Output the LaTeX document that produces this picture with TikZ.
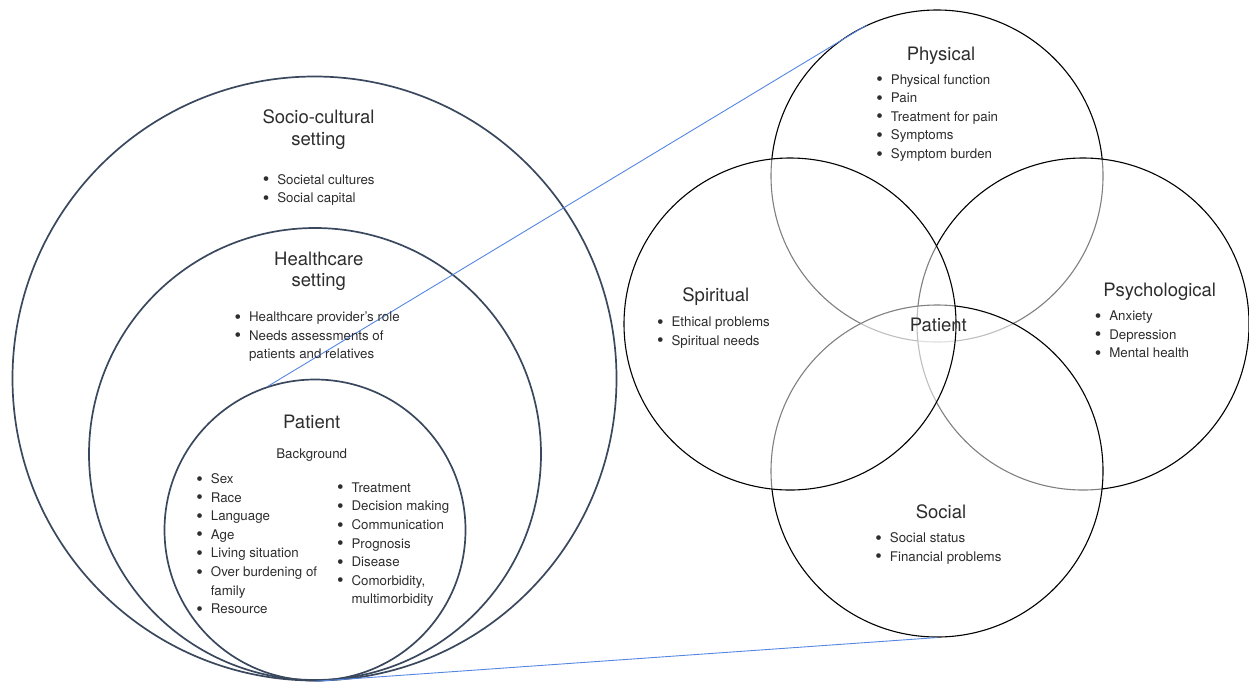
\documentclass[tikz,border=0pt]{standalone}
\usepackage{fontspec}
\setmainfont{TeX Gyre Heros}
\definecolor{ringcol}{RGB}{58,72,94}
\definecolor{txt}{RGB}{45,45,45}
\definecolor{zoomblue}{RGB}{84,134,226}
% a slightly enlarged bullet, kept centred on the x-height
\newcommand\dotb{\raisebox{-0.12em}{\scalebox{1.4}{\textbullet}}}
% bullet list: bullet column and text column, aligned on the first baseline
\newcommand\bulletlist[1]{\begin{tabular}[t]{@{}l@{\hspace{8pt}}l@{}}#1\end{tabular}}
\newcommand\titlelines[1]{\begin{tabular}[t]{@{}c@{}}#1\end{tabular}}
\begin{document}
\begin{tikzpicture}[x=1pt,y=-1pt,
  ring/.style={circle,draw=ringcol,line width=1.7pt,inner sep=0pt,minimum size=#1},
  petal/.style={circle,draw=black,line width=1.1pt,fill=white,fill opacity=0.5,inner sep=0pt,minimum size=332pt},
  ttl/.style={text=txt,anchor=base,inner sep=0pt,font=\fontsize{18.5}{21.8}\selectfont},
  sub/.style={text=txt,anchor=base,inner sep=0pt,font=\fontsize{13.3}{18.6}\selectfont},
  lst/.style={text=txt,anchor=base west,inner sep=0pt,font=\fontsize{13.3}{18.6}\selectfont},
  zoomline/.style={draw=zoomblue,line width=0.9pt}]
\useasboundingbox (0,0) rectangle (1249,681);

% nested settings around the patient
\node[ring=604pt] (outer) at (314.5,378.5) {};
\node[ring=452pt] (middle) at (315,454) {};
\node[ring=301pt] (inner) at (315,530) {};

% four overlapping domains
\node[petal] (phys) at (937,176) {};
\node[petal] (psych) at (1083,324) {};
\node[petal] (social) at (937,471) {};
\node[petal] (spirit) at (790,324) {};

% lines from the patient circle out to the domains
\draw[zoomline] (inner.108) -- (phys.115);
\draw[zoomline] (inner.south) -- (social.south);

% labels of the nested circles
\node[ttl] (tsoc) at (318.5,123.3) {\titlelines{Socio-cultural\\setting}};
\node[lst] (lsoc) at (262.6,184) {\bulletlist{\dotb & Societal cultures\\ \dotb & Social capital}};

\node[ttl] (thc) at (318.8,265) {\titlelines{Healthcare\\setting}};
\node[lst] (lhc) at (234.3,321.7) {\bulletlist{\dotb & Healthcare provider’s role\\ \dotb & Needs assessments of\\ & patients and relatives}};

\node[ttl] (tpat) at (311.7,428.3) {Patient};
\node[sub] (tbg) at (311.7,458.7) {Background};
\node[lst] (lpat1) at (196.2,483.5) {\bulletlist{\dotb & Sex\\ \dotb & Race\\ \dotb & Language\\ \dotb & Age\\ \dotb & Living situation\\ \dotb & Over burdening of\\ & family\\ \dotb & Resource}};
\node[lst] (lpat2) at (336.9,492.3) {\bulletlist{\dotb & Treatment\\ \dotb & Decision making\\ \dotb & Communication\\ \dotb & Prognosis\\ \dotb & Disease\\ \dotb & Comorbidity,\\ & multimorbidity}};

% labels of the domains
\node[ttl] (tphys) at (941,60) {Physical};
\node[lst] (lphys) at (876.2,84) {\bulletlist{\dotb & Physical function\\ \dotb & Pain\\ \dotb & Treatment for pain\\ \dotb & Symptoms\\ \dotb & Symptom burden}};

\node[ttl] (tspirit) at (715.8,301.7) {Spiritual};
\node[lst] (lspirit) at (656.9,326.7) {\bulletlist{\dotb & Ethical problems\\ \dotb & Spiritual needs}};

\node[ttl] (tpsych) at (1159.7,296.7) {Psychological};
\node[lst] (lpsych) at (1094.6,320.7) {\bulletlist{\dotb & Anxiety\\ \dotb & Depression\\ \dotb & Mental health}};

\node[ttl] (tsocial) at (941,518.3) {Social};
\node[lst] (lsocial) at (875.2,542.7) {\bulletlist{\dotb & Social status\\ \dotb & Financial problems}};

\node[ttl] (tcore) at (938.3,331.7) {Patient};
\end{tikzpicture}
\end{document}
